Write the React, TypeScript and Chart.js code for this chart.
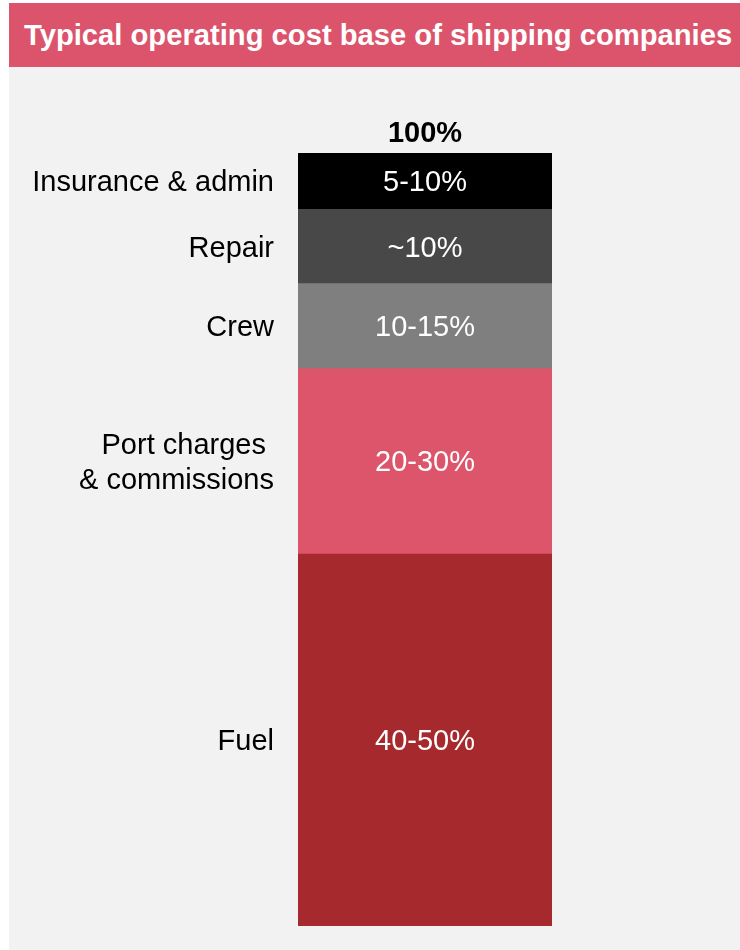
import React, { useEffect, useRef } from "react";
import { Chart, registerables } from "chart.js";

Chart.register(...registerables);

const title = "Typical operating cost base of shipping companies";
const totalLabel = "100%";
// bottom to top
const categories: string[][] = [
  ["Fuel"],
  ["Port charges ", "& commissions"],
  ["Crew"],
  ["Repair"],
  ["Insurance & admin"],
];
const valueLabels = ["40-50%", "20-30%", "10-15%", "~10%", "5-10%"];
const values = [48.1, 24.0, 11.0, 9.6, 7.3];
const colors = ["#A62A2D", "#DC556B", "#7F7F7F", "#484848", "#000000"];

const FONT = "'Liberation Sans', Arial, Helvetica, sans-serif";

const labelPlugin = {
  id: "segLabels",
  afterDatasetsDraw(chart: any) {
    const ctx = chart.ctx;
    ctx.save();
    const left = chart.chartArea.left;
    let topY = Infinity;
    let cx = 0;
    chart.data.datasets.forEach((ds: any, i: number) => {
      const meta = chart.getDatasetMeta(i);
      const el: any = meta.data[0];
      if (!el) return;
      const top = Math.min(el.y, el.base);
      const bottom = Math.max(el.y, el.base);
      const mid = (top + bottom) / 2;
      topY = Math.min(topY, top);
      cx = el.x;
      ctx.font = `29px ${FONT}`;
      ctx.textBaseline = "alphabetic";
      ctx.fillStyle = "#ffffff";
      ctx.textAlign = "center";
      ctx.fillText(valueLabels[i], el.x, mid + 10);
      const lines = categories[i];
      const lh = 35;
      ctx.fillStyle = "#000000";
      ctx.textAlign = "right";
      lines.forEach((ln: string, k: number) => {
        const y = mid + 10 + (k - (lines.length - 1) / 2) * lh;
        ctx.fillText(ln, left - 24, y);
      });
    });
    ctx.font = `bold 29px ${FONT}`;
    ctx.fillStyle = "#000000";
    ctx.textAlign = "center";
    ctx.textBaseline = "alphabetic";
    ctx.fillText(totalLabel, cx, topY - 11);
    ctx.restore();
  },
};

export default function App() {
  const ref = useRef<HTMLCanvasElement>(null);
  useEffect(() => {
    if (!ref.current) return;
    const chart = new Chart(ref.current, {
      type: "bar",
      data: {
        labels: ["Cost base"],
        datasets: values.map((v, i) => ({
          label: categories[i].join(" "),
          data: [v],
          backgroundColor: colors[i],
          borderWidth: 0,
          barPercentage: 1,
          categoryPercentage: 1,
          stack: "s",
        })),
      },
      options: {
        animation: false,
        responsive: false,
        maintainAspectRatio: false,
        devicePixelRatio: 1,
        layout: { padding: { left: 289, right: 188, top: 86, bottom: 24 } },
        plugins: {
          legend: { display: false },
          tooltip: { enabled: false },
          title: { display: false },
        },
        scales: {
          x: { stacked: true, display: false, grid: { display: false } },
          y: { stacked: true, display: false, min: 0, max: 100, grid: { display: false } },
        },
      },
      plugins: [labelPlugin],
    });
    return () => chart.destroy();
  }, []);

  return (
    <div
      style={{
        position: "absolute",
        left: 9,
        top: 3,
        width: 731,
        height: 947,
        background: "#F2F2F2",
        overflow: "hidden",
      }}
    >
      <div
        style={{
          height: 64,
          lineHeight: "64px",
          background: "#DC546B",
          color: "#ffffff",
          fontFamily: FONT,
          fontWeight: "bold",
          fontSize: 29.2,
          paddingLeft: 15,
          whiteSpace: "nowrap",
        }}
      >
        {title}
      </div>
      <canvas
        ref={ref}
        width={731}
        height={883}
        style={{ position: "absolute", left: 0, top: 64, width: 731, height: 883, display: "block" }}
      />
    </div>
  );
}
